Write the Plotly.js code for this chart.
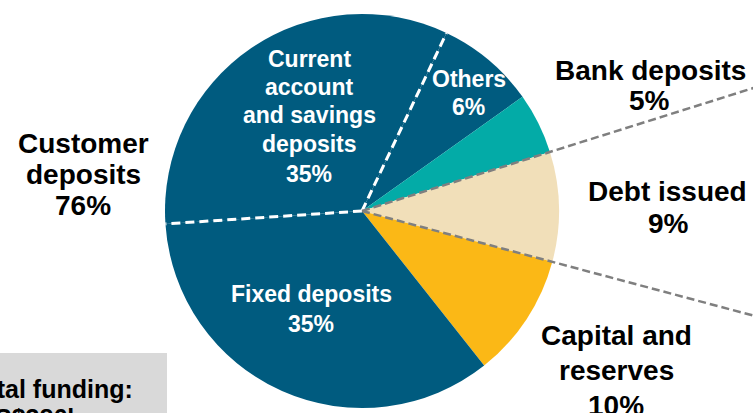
<!DOCTYPE html>
<html>
<head>
<meta charset="utf-8">
<script src="https://cdn.plot.ly/plotly-3.0.1.min.js"></script>
<style>
  html, body { margin: 0; padding: 0; background: #ffffff; }
  #chart { width: 753px; height: 413px; }
</style>
</head>
<body>
<div id="chart"></div>
<script>
// ---- data ----
const categories = ['Others', 'Bank deposits', 'Debt issued', 'Capital and reserves', 'Fixed deposits', 'Current account and savings deposits'];
const shares = [8.1, 5.0, 9.0, 10.2, 34.6, 33.1];          // slice sizes as drawn
const labelPercents = ['6%', '5%', '9%', '10%', '35%', '35%']; // printed labels
const groupLabel = ['Customer', 'deposits', '76%'];
const fundingLabel = ['Total funding:', 'S$386bn'];

// ---- style / layout ----
const W = 753, H = 413;
const CX = 362, CY = 211, R = 197;
const ROTATION = 25.4;
const sliceColors = ['#005b7f', '#03aba7', '#f1dfb9', '#fbb816', '#005b7f', '#005b7f'];
const FONT = 'Liberation Sans, Arial, sans-serif';

const px = p => p / W;
const py = p => 1 - p / H;

const total = shares.reduce((a, b) => a + b, 0);
function boundaryAngle(k) { // angle (deg, clockwise from 12 o'clock) after slice k
  let s = 0;
  for (let i = 0; i <= k; i++) s += shares[i];
  return ROTATION + 360 * s / total;
}
function pointAt(angleDeg, dist) {
  const a = angleDeg * Math.PI / 180;
  return [CX + dist * Math.sin(a), CY - dist * Math.cos(a)];
}
function ray(angleDeg, dist, color, width, dash) {
  const p = pointAt(angleDeg, dist);
  return {
    type: 'line', xref: 'paper', yref: 'paper', layer: 'above',
    x0: px(CX), y0: py(CY), x1: px(p[0]), y1: py(p[1]),
    line: { color: color, width: width, dash: dash }
  };
}

const shapes = [
  // gray funding box
  { type: 'rect', xref: 'paper', yref: 'paper', layer: 'below',
    x0: px(-5), x1: px(167), y0: py(353), y1: py(420),
    fillcolor: '#d9d9d9', line: { width: 0 } },
  // white dashed separators of customer deposits
  ray(ROTATION, R, '#ffffff', 3, '9px,5px'),
  ray(boundaryAngle(4), R, '#ffffff', 3, '9px,5px'),
  // gray dashed leader lines around debt issued
  ray(boundaryAngle(1), 420, '#7f7f7f', 2.5, '8px,4px'),
  ray(boundaryAngle(2), 420, '#7f7f7f', 2.5, '8px,4px')
];

function line(text, x, baseline, size, color) {
  return {
    xref: 'paper', yref: 'paper', showarrow: false,
    x: px(x), y: py(baseline - 0.3465 * size),
    xanchor: 'center', yanchor: 'middle',
    text: text,
    font: { family: FONT, size: size, color: color, weight: 'bold' }
  };
}

const annotations = [
  // customer deposits group
  line(groupLabel[0], 83, 153, 28, '#000000'),
  line(groupLabel[1], 83, 184, 28, '#000000'),
  line(groupLabel[2], 83, 215, 28, '#000000'),
  // bank deposits
  line(categories[1], 650, 80, 28, '#000000'),
  line(labelPercents[1], 649, 110, 28, '#000000'),
  // debt issued
  line(categories[2], 667, 201.5, 28, '#000000'),
  line(labelPercents[2], 668, 233, 28, '#000000'),
  // capital and reserves
  line('Capital and', 616, 345, 28, '#000000'),
  line('reserves', 616, 380, 28, '#000000'),
  line(labelPercents[3], 616, 415, 28, '#000000'),
  // current account and savings deposits (inside)
  line('Current', 309, 66.5, 23, '#ffffff'),
  line('account', 309, 95, 23, '#ffffff'),
  line('and savings', 309, 123.3, 23, '#ffffff'),
  line('deposits', 309, 151.7, 23, '#ffffff'),
  line(labelPercents[5], 309, 181.7, 23, '#ffffff'),
  // others (inside)
  line(categories[0], 468.5, 87.3, 23, '#ffffff'),
  line(labelPercents[0], 468, 115, 23, '#ffffff'),
  // fixed deposits (inside)
  line(categories[4], 311.5, 301.7, 23, '#ffffff'),
  line(labelPercents[4], 311, 331.7, 23, '#ffffff'),
  // total funding box
  line(fundingLabel[0], 50, 398, 25, '#000000'),
  line(fundingLabel[1], 46, 427, 25, '#000000')
];

const trace = {
  type: 'pie',
  labels: categories,
  values: shares,
  sort: false,
  direction: 'clockwise',
  rotation: ROTATION,
  textinfo: 'none',
  hoverinfo: 'label+percent',
  marker: { colors: sliceColors, line: { width: 0 } },
  domain: { x: [px(CX - R), px(CX + R)], y: [py(CY + R), py(CY - R)] },
  showlegend: false
};

const layout = {
  width: W, height: H,
  margin: { l: 0, r: 0, t: 0, b: 0 },
  paper_bgcolor: '#ffffff',
  plot_bgcolor: '#ffffff',
  showlegend: false,
  shapes: shapes,
  annotations: annotations
};

Plotly.newPlot('chart', [trace], layout, { displayModeBar: false, staticPlot: true });
</script>
</body>
</html>
